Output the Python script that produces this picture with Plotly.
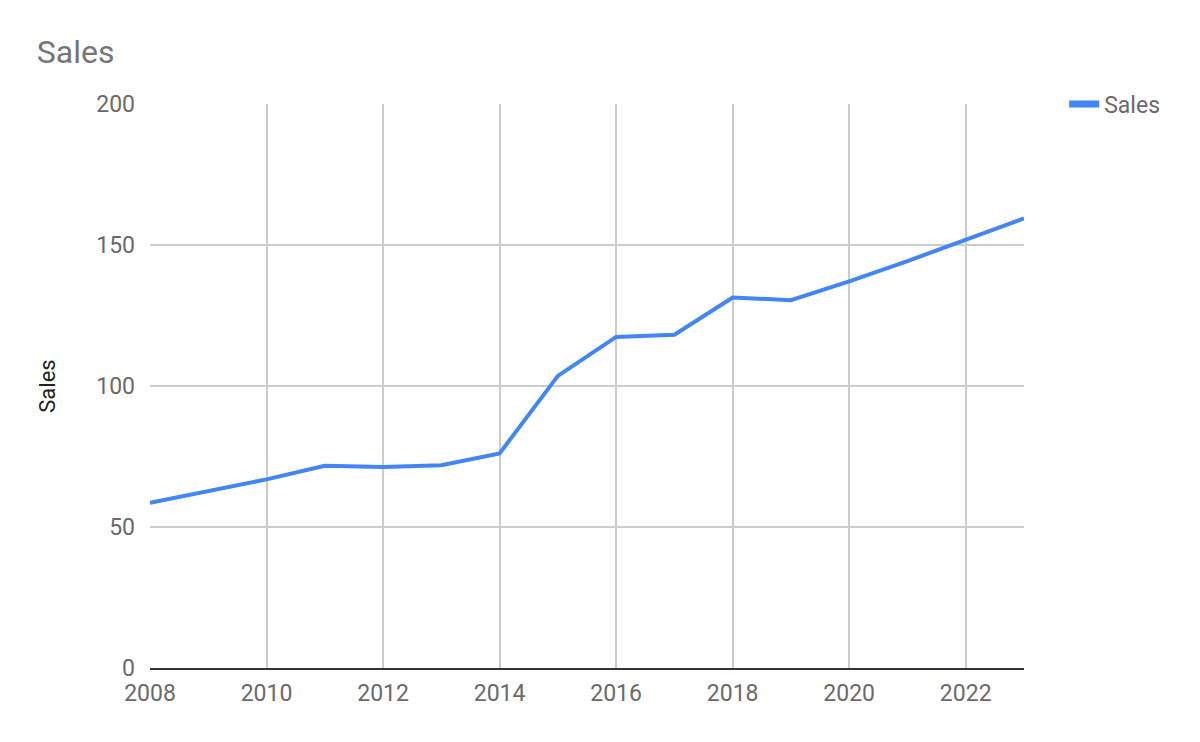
import plotly.graph_objects as go

years = list(range(2008, 2024))
sales = [58.6, 62.8, 66.9, 71.7, 71.3, 71.9, 76.1, 103.6, 117.4, 118.2, 131.4, 130.4, 137.1, 144.3, 151.9, 159.4]
x_ticks = [2008, 2010, 2012, 2014, 2016, 2018, 2020, 2022]
y_ticks = [0, 50, 100, 150, 200]

fig = go.Figure()
fig.add_trace(go.Scatter(x=years, y=sales, mode="lines", name="Sales", showlegend=False,
                         line=dict(color="#4285F4", width=4)))
# legend entry with a thicker swatch (no data points)
fig.add_trace(go.Scatter(x=[None], y=[None], mode="lines", name="Sales", showlegend=True,
                         line=dict(color="#4285F4", width=7)))

fig.update_layout(
    width=1200, height=742,
    paper_bgcolor="white", plot_bgcolor="white",
    font=dict(family="Roboto", color="#6a6a6a"),
    title=dict(text="Sales", x=0.024, xanchor="left", y=0.9407, yanchor="middle",
               font=dict(size=32, color="#757575", family="Roboto")),
    margin=dict(l=142, r=184, t=96, b=82),
    showlegend=True,
    legend=dict(x=1.046, xanchor="left", y=1.0, yanchor="middle", itemwidth=30,
                font=dict(size=23, color="#6a6a6a"), bgcolor="rgba(0,0,0,0)"),
    xaxis=dict(range=[2008, 2023], tickvals=x_ticks, ticktext=[str(t) for t in x_ticks],
               showgrid=True, gridcolor="#cccccc", gridwidth=1.5,
               showline=True, linecolor="#333333", linewidth=2,
               zeroline=False, tickfont=dict(size=23, color="#6a6a6a"), ticks="",
               ticklabelstandoff=3),
    yaxis=dict(range=[0, 200], tickvals=y_ticks, showgrid=True, gridcolor="#cccccc", gridwidth=1.5,
               zeroline=False, showline=False, tickfont=dict(size=23, color="#6a6a6a"),
               ticks="", ticklabelstandoff=14,
               title=dict(text="Sales", font=dict(size=22, color="#222222"), standoff=34)),
)
fig.write_html("out.html")
